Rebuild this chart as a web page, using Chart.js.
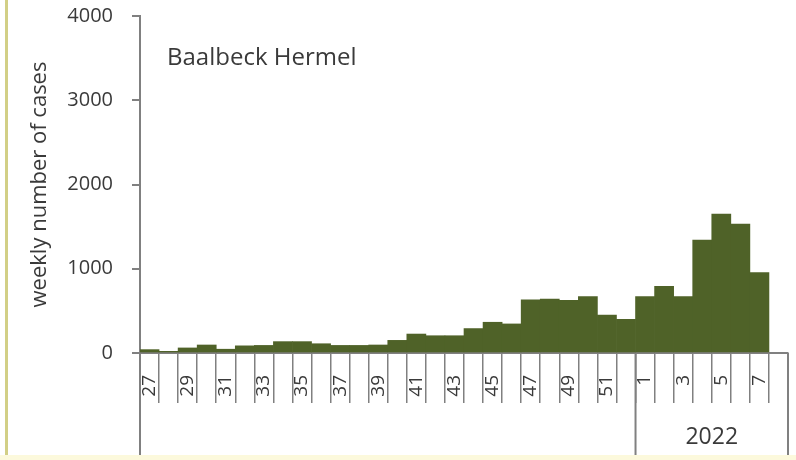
<!DOCTYPE html>
<html>
<head>
<meta charset="utf-8">
<script src="https://cdn.jsdelivr.net/npm/chart.js@4.4.1/dist/chart.umd.min.js"></script>
<style>
  body { margin: 0; background: #ffffff; }
  #wrap { position: relative; width: 796px; height: 460px; overflow: hidden; }
  #wrap .edgeLeft { position: absolute; left: 5px; top: 0; width: 3px; height: 460px; background: #d2cf86; }
  #wrap .edgeBottom { position: absolute; left: 0; bottom: 0; width: 796px; height: 5px; background: #fcf9dc; }
</style>
</head>
<body>
<div id="wrap">
  <canvas id="casesChart" width="796" height="460"></canvas>
  <div class="edgeLeft"></div>
  <div class="edgeBottom"></div>
</div>
<script>
// epidemiological weeks, 2021 (27-52) then 2022 (1-8)
const weeks = [27, 28, 29, 30, 31, 32, 33, 34, 35, 36, 37, 38, 39, 40, 41, 42, 43, 44, 45, 46, 47, 48, 49, 50, 51, 52,
               1, 2, 3, 4, 5, 6, 7, 8];
const weeklyCases = [40, 20, 60, 95, 45, 85, 90, 135, 135, 110, 90, 90, 95, 150, 225, 205, 205, 290, 365, 345,
                     630, 640, 625, 670, 450, 400, 670, 790, 670, 1340, 1650, 1530, 955, null];
const yTicks = [0, 1000, 2000, 3000, 4000];
const yearLabel = '2022';
const firstWeekOfYear = 26; // index of week 1 in weeks
const regionName = 'Baalbeck Hermel';

const axisGray = '#808080';
const textColor = '#3a3a3a';
const fontFamily = "'Open Sans', sans-serif";

// extra lines under the x axis (year grouping) + region label
const groupingPlugin = {
    id: 'grouping',
    afterDraw(chart) {
        const ctx = chart.ctx;
        const x = chart.scales.x;
        const area = chart.chartArea;
        const bottom = chart.height;
        const sep = (x.getPixelForValue(firstWeekOfYear - 1) + x.getPixelForValue(firstWeekOfYear)) / 2;

        ctx.save();
        ctx.strokeStyle = axisGray;
        ctx.lineWidth = 2;
        ctx.beginPath();
        ctx.moveTo(area.left, area.bottom);
        ctx.lineTo(area.left, bottom);
        ctx.moveTo(sep, area.bottom);
        ctx.lineTo(sep, bottom);
        ctx.moveTo(area.right, area.bottom);
        ctx.lineTo(area.right, bottom);
        ctx.stroke();

        ctx.fillStyle = textColor;
        ctx.font = '23px ' + fontFamily;
        ctx.textAlign = 'center';
        ctx.textBaseline = 'middle';
        ctx.fillText(yearLabel, (sep + area.right) / 2, 437);

        ctx.textAlign = 'left';
        ctx.font = '24px ' + fontFamily;
        ctx.fillText(regionName, area.left + 27, area.top + 42);
        ctx.restore();
    }
};

const ctx = document.getElementById('casesChart').getContext('2d');
new Chart(ctx, {
    type: 'bar',
    data: {
        labels: weeks,
        datasets: [{
            data: weeklyCases,
            backgroundColor: '#4f6228',
            borderWidth: 0,
            barPercentage: 1.0,
            categoryPercentage: 1.0
        }]
    },
    options: {
        responsive: false,
        animation: false,
        devicePixelRatio: 1,
        layout: {
            padding: { top: 16, right: 8, left: 0, bottom: 0 }
        },
        plugins: {
            legend: { display: false },
            tooltip: { enabled: false }
        },
        scales: {
            x: {
                grid: {
                    offset: true,
                    drawOnChartArea: false,
                    drawTicks: true,
                    tickLength: 50,
                    color: axisGray,
                    lineWidth: 1.5
                },
                border: { color: axisGray, width: 2 },
                ticks: {
                    autoSkip: false,
                    minRotation: 90,
                    maxRotation: 90,
                    padding: -28,
                    color: textColor,
                    font: { family: fontFamily, size: 19 },
                    callback: function (value, index) {
                        return index % 2 === 0 ? String(weeks[index]) : '';
                    }
                },
                afterFit: function (scale) {
                    scale.height = 107;
                    scale.paddingLeft = 0;
                    scale.paddingRight = 0;
                }
            },
            y: {
                min: 0,
                max: 4000,
                afterBuildTicks: function (scale) {
                    scale.ticks = yTicks.map(v => ({ value: v }));
                },
                grid: {
                    drawOnChartArea: false,
                    tickLength: 8,
                    color: axisGray,
                    lineWidth: 2
                },
                border: { color: axisGray, width: 2 },
                ticks: {
                    padding: 19,
                    color: textColor,
                    font: { family: fontFamily, size: 20 },
                    callback: function (value) {
                        return String(value);
                    }
                },
                title: {
                    display: true,
                    text: 'weekly number of cases',
                    color: textColor,
                    font: { family: fontFamily, size: 22 },
                    padding: { top: 27, bottom: 0 }
                },
                afterFit: function (scale) {
                    scale.width = 140;
                    scale.paddingTop = 0;
                    scale.paddingBottom = 0;
                }
            }
        }
    },
    plugins: [groupingPlugin]
});
</script>
</body>
</html>
